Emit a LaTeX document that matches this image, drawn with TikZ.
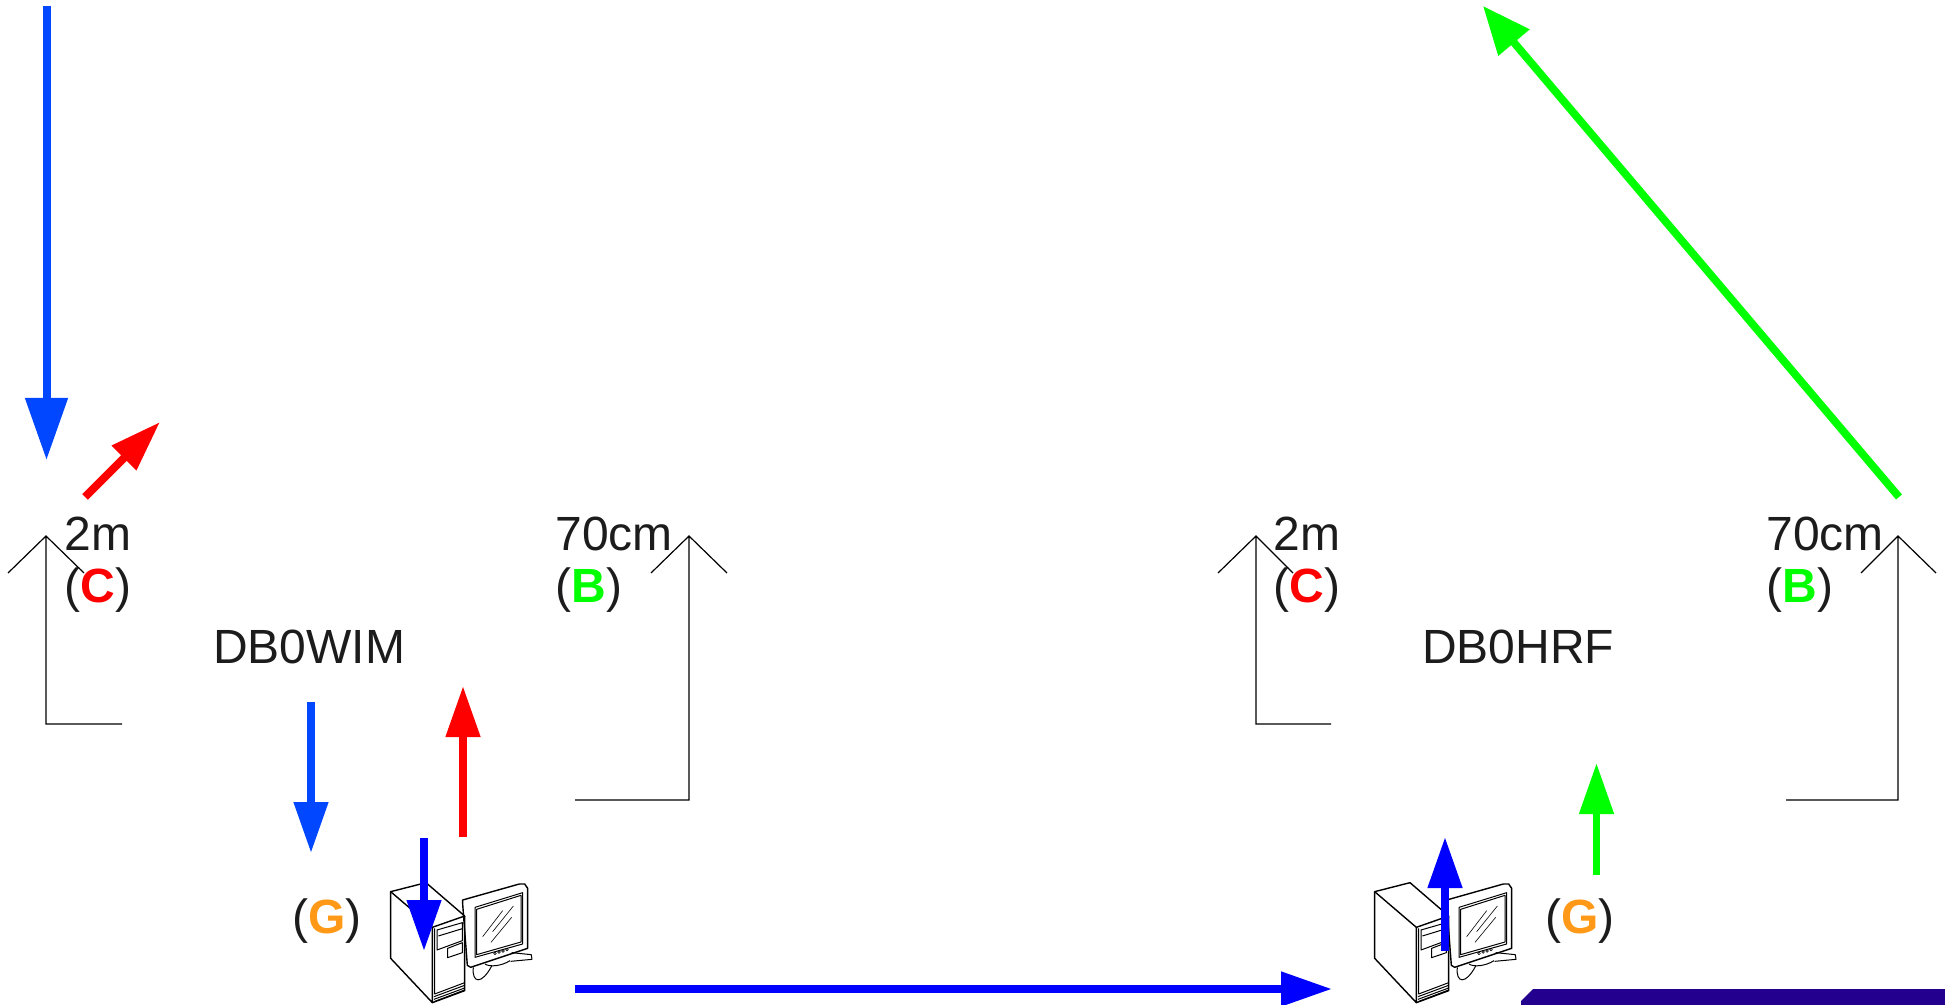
\documentclass[tikz,border=0pt]{standalone}
\usepackage{fontspec}
\setmainfont{Liberation Sans}
\usetikzlibrary{arrows.meta}
\tikzset{
  lbl/.style={anchor=base,inner sep=0pt,text=ctext,font=\fontsize{24}{28}\selectfont},
  ant/.style={draw=black,line width=0.6pt},
  bigarrow/.style={line width=4pt,-{Triangle[length=31pt,width=20.5pt]}},
  midarrow/.style={line width=3.9pt,-{Triangle[length=25.5pt,width=16.5pt]}},
  longarrow/.style={line width=3.9pt,-{Triangle[length=24pt,width=19.5pt]}},
  pcline/.style={draw=black,line width=0.5pt,line join=round},
  pics/pcicon/.style={code={
    \begin{scope}[scale=1/3]
    % tower
    \draw[pcline,line width=0.7pt] (62,215) -- (168,188) -- (284,288) -- (187,322) -- cycle;
    \draw[pcline,line width=0.7pt] (62,215) -- (62,415) -- (187,548) -- (187,322);
    \draw[pcline,line width=0.7pt] (187,548) -- (284,512) -- (284,288);
    \draw[pcline] (194,325) -- (194,522) -- (284,488);
    \draw[pcline] (201,330) -- (277,308) -- (277,362) -- (201,390) -- cycle;
    \draw[pcline] (205,348) -- (277,326);
    \draw[pcline] (233,385) -- (277,368) -- (277,398) -- (233,413) -- cycle;
    \draw[pcline] (192,530) -- (284,496);
    \draw[pcline] (192,538) -- (284,504);
    \draw[pcline] (192,545) -- (284,510);
    % monitor
    \draw[pcline,line width=0.7pt] (278,240) -- (448,192) -- (464,192) -- (473,205) -- (473,385) -- (302,442) -- (292,436) -- (278,252) -- cycle;
    \draw[pcline] (315,262) -- (458,218) -- (458,372) -- (315,412) -- cycle;
    \draw[pcline] (320,268) -- (453,226) -- (453,366) -- (320,404) -- cycle;
    \draw[pcline,line width=0.3pt] (338,350) -- (398,272);
    \draw[pcline,line width=0.3pt] (368,335) -- (430,258);
    \draw[pcline,line width=0.3pt] (363,367) -- (425,292);
    \draw[pcline,line width=0.3pt] (375,400) circle (4) (387,396) circle (4) (399,393) circle (4) (411,389) circle (4);
    % stand
    \draw[pcline] (345,432) .. controls (360,442) and (395,438) .. (420,422);
    \draw[pcline] (425,398) -- (484,404) -- (486,418) -- (422,424);
    \draw[pcline] (310,442) .. controls (305,490) and (335,495) .. (365,438);
    \end{scope}
  }},
}
\begin{document}
\begin{tikzpicture}[x=0.5pt,y=-0.5pt]
\definecolor{ctext}{rgb}{0.11,0.11,0.11}
\definecolor{credarrow}{rgb}{1.0,0.0,0.0}
\definecolor{cgreenarrow}{rgb}{0.0,1.0,0.0}
\definecolor{cskyarrow}{rgb}{0.0,0.28,1.0}
\definecolor{cbluearrow}{rgb}{0.0,0.0,1.0}
\definecolor{corange}{rgb}{1.0,0.6,0.09}
\definecolor{cbar}{rgb}{0.14,0.0,0.56}
\useasboundingbox (0,0) rectangle (1945,1005);
%
\pic (pcwim) at (370,820) {pcicon};
\pic (pchrf) at (1354,820) {pcicon};
%
\node[lbl] (wim2m) at (98,551) {2m};
\node[lbl] (wimC) at (98,603) {(\textcolor{credarrow}{\textbf{C}})};
\node[lbl] (wim70) at (614,551) {70cm};
\node[lbl] (wimB) at (589,603) {(\textcolor{cgreenarrow}{\textbf{B}})};
\node[lbl] (wimname) at (309,663) {DB0WIM};
\node[lbl] (wimG) at (327,933) {(\textcolor{corange}{\textbf{G}})};
\node[lbl] (hrf2m) at (1307,551) {2m};
\node[lbl] (hrfC) at (1307,603) {(\textcolor{credarrow}{\textbf{C}})};
\node[lbl] (hrf70) at (1825,551) {70cm};
\node[lbl] (hrfB) at (1800,603) {(\textcolor{cgreenarrow}{\textbf{B}})};
\node[lbl] (hrfname) at (1518,663) {DB0HRF};
\node[lbl] (hrfG) at (1580,933) {(\textcolor{corange}{\textbf{G}})};
%
\coordinate (a1tip) at (46,536);
\coordinate (a1l) at (8,573);
\coordinate (a1r) at (84,573);
\coordinate (a1low) at (46,724);
\coordinate (a1end) at (122,724);
\coordinate (a2tip) at (689,536);
\coordinate (a2l) at (651,573);
\coordinate (a2r) at (727,573);
\coordinate (a2low) at (689,800);
\coordinate (a2end) at (575,800);
\coordinate (a3tip) at (1256,536);
\coordinate (a3l) at (1218,573);
\coordinate (a3r) at (1293,573);
\coordinate (a3low) at (1256,724);
\coordinate (a3end) at (1331,724);
\coordinate (a4tip) at (1898,536);
\coordinate (a4l) at (1861,573);
\coordinate (a4r) at (1936,573);
\coordinate (a4low) at (1898,800);
\coordinate (a4end) at (1786,800);
%
\draw[ant] (a1l) -- (a1tip) -- (a1r) (a1tip) -- (a1low) -- (a1end);
\draw[ant] (a2l) -- (a2tip) -- (a2r) (a2tip) -- (a2low) -- (a2end);
\draw[ant] (a3l) -- (a3tip) -- (a3r) (a3tip) -- (a3low) -- (a3end);
\draw[ant] (a4l) -- (a4tip) -- (a4r) (a4tip) -- (a4low) -- (a4end);
%
\coordinate (skyin) at (46.5,6);
\coordinate (skyout) at (46.5,460);
\coordinate (redin) at (85,497);
\coordinate (redout) at (160,422);
\coordinate (downa) at (311,702);
\coordinate (downb) at (311,853);
\coordinate (upa) at (463,837);
\coordinate (upb) at (463,686);
\coordinate (pcina) at (424,838);
\coordinate (pcinb) at (424,951);
\coordinate (linka) at (575,989);
\coordinate (linkb) at (1332,989);
\coordinate (pcouta) at (1445,951);
\coordinate (pcoutb) at (1445,837);
\coordinate (greena) at (1596.5,875);
\coordinate (greenb) at (1596.5,763);
\coordinate (txa) at (1899,497);
\coordinate (txb) at (1483,6);
%
\draw[bigarrow,cskyarrow] (skyin) -- (skyout);
\draw[midarrow,credarrow] (redin) -- (redout);
\draw[midarrow,cskyarrow] (downa) -- (downb);
\draw[midarrow,credarrow] (upa) -- (upb);
\draw[midarrow,cbluearrow] (pcina) -- (pcinb);
\draw[midarrow,cbluearrow] (linka) -- (linkb);
\draw[midarrow,cbluearrow] (pcouta) -- (pcoutb);
\draw[midarrow,cgreenarrow] (greena) -- (greenb);
\draw[longarrow,cgreenarrow] (txa) -- (txb);
%
\fill[cbar] (1521,1005) -- (1521,1001) -- (1533,989) -- (1945,989) -- (1945,1005) -- cycle;
%
\end{tikzpicture}
\end{document}
